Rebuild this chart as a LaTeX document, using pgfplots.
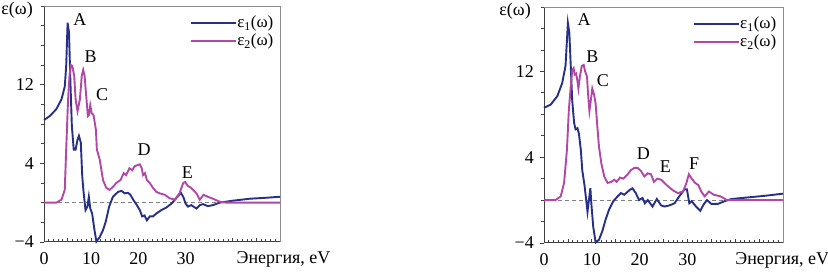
\documentclass[border=0pt]{standalone}
\usepackage{fontspec}
\setmainfont{Liberation Serif}
\usepackage{pgfplots}
\pgfplotsset{compat=1.18}
\definecolor{eone}{RGB}{38,48,135}
\definecolor{etwo}{RGB}{178,72,165}
\pgfplotsset{
  myaxis/.style={
    scale only axis, anchor=south west,
    axis lines=left,
    xmin=0, xmax=50, ymin=-4,
    axis line style={black!75, line width=1pt, -},
    xtick={0,5,...,50}, xticklabels={0,,10,,20,,30,,,,},
    minor xtick={0,1,...,50},
    ytick={-4,4,12}, yticklabels={−4,4,12},
    tick align=outside,
    major tick length=4pt, minor tick length=3pt,
    every tick/.append style={black!75, line width=0.8pt},
    every major x tick/.append style={yshift=4pt},
    every minor x tick/.append style={yshift=3pt},
    /pgf/number format/assume math mode=true,
    clip=false,
    legend cell align=left,
    legend style={draw=none, fill=none, anchor=north east, at={(0.975,0.96)},
      row sep=2pt, inner sep=0pt, font=\fontsize{17}{18}\selectfont,
      nodes={inner sep=0.5pt}},
    legend image code/.code={\draw[#1] (0pt,0pt) -- (45pt,0pt);},
  }
}
\begin{document}
\fontsize{18}{21}\selectfont
\begin{tikzpicture}
\useasboundingbox (0,0) rectangle (828pt,275pt);
% ---------------- left ----------------
\begin{axis}[myaxis, at={(44pt,33pt)}, width=236pt, height=236pt, ymax=20,
  minor ytick={-4,-2,...,20}]
\draw[black!45, line width=0.9pt] (rel axis cs:0,1) -- (rel axis cs:1,1) -- (rel axis cs:1,0);
\addplot[forget plot, gray, line width=1.1pt, dash pattern=on 4pt off 3pt] coordinates {(0,0) (50,0)};
\addplot[eone, line width=1.9pt] coordinates {
(0,8.4) (1.2,8.8) (2.6,9.5) (3.7,10.5) (4.4,11.8) (4.7,13.9) (5.0,18.3) (5.3,17.3) (5.6,12.2) (5.9,7.8)
(6.3,5.4) (6.7,5.4) (7.1,6.4) (7.4,6.8) (7.8,6.1) (8.1,2.7) (8.4,1.0) (8.8,-0.75) (9.2,-0.4) (9.5,0.6)
(9.8,-0.6) (10.2,-1.1) (10.7,-2.8) (11.1,-3.95) (11.8,-3.5) (12.5,-2.8) (13.1,-1.9) (13.8,-0.4) (14.6,0.6)
(15.7,1.1) (16.4,1.2) (17.1,0.95) (17.8,1.0) (18.3,0.8) (18.9,0.3) (19.6,-0.2) (20.3,-0.75) (20.8,-1.4)
(21.3,-1.3) (21.8,-1.8) (22.4,-1.4) (23.1,-1.4) (23.8,-1.1) (24.9,-0.75) (25.9,-0.5) (27.0,-0.1) (28.0,0.45)
(29.0,1.0) (29.5,0.6) (30.0,-0.1) (30.5,-0.4) (31.2,-0.25) (32.3,-0.6) (33.0,-0.25) (33.7,-0.15) (34.7,-0.35)
(35.8,-0.25) (37.2,0) (40.0,0.2) (43.6,0.4) (47.1,0.5) (50,0.6)};
\addlegendentry{ε\textsubscript{1}(ω)}
\addplot[etwo, line width=1.9pt] coordinates {
(0,0) (2.6,0) (3.7,0.3) (4.4,1.3) (4.7,5.4) (5.1,10.5) (5.4,12.9) (5.7,14.0) (6.0,13.9) (6.4,12.9)
(6.7,10.5) (7.1,9.3) (7.6,10.5) (8.0,12.9) (8.3,13.5) (8.6,12.9) (9.0,10.5) (9.3,8.8) (9.5,8.9) (9.8,9.9)
(10.1,9.1) (10.5,8.9) (11.0,7.4) (11.2,5.4) (11.8,4.4) (12.5,2.3) (13.2,1.5) (13.9,1.3) (14.6,1.6) (15.3,2.0)
(16.2,2.3) (16.9,3.0) (17.4,2.8) (18.1,3.5) (18.7,3.3) (19.2,3.7) (19.7,3.8) (20.3,3.9) (20.7,3.5) (21.0,2.8)
(21.4,3.0) (21.8,2.3) (22.4,2.0) (23.1,1.5) (23.8,1.1) (24.5,0.95) (25.6,0.8) (26.6,0.45) (27.7,0.3) (28.7,0.95)
(29.5,2.0) (29.9,2.1) (30.5,1.7) (31.2,1.5) (32.3,0.95) (33.0,0.3) (33.8,0.8) (34.7,0.6) (35.8,0.4) (37.2,0.1)
(38.6,0) (50,0)};
\addlegendentry{ε\textsubscript{2}(ω)}
\node at (axis cs:7.6,18.6) {A};
\node at (axis cs:9.9,14.8) {B};
\node at (axis cs:12.3,11.0) {C};
\node at (axis cs:21.2,5.4) {D};
\node at (axis cs:30.4,3.1) {E};
\node at (rel axis cs:-0.114,0.983) {ε(ω)};
\node[anchor=base west] at (rel axis cs:0.79,-0.093) {Энергия, eV};
\end{axis}
% ---------------- right ----------------
\begin{axis}[myaxis, at={(544pt,32pt)}, width=239pt, height=236pt, ymax=18,
  minor ytick={-4,-2,...,18}]
\draw[black!45, line width=0.9pt] (rel axis cs:0,1) -- (rel axis cs:1,1) -- (rel axis cs:1,0);
\addplot[forget plot, gray, line width=1.1pt, dash pattern=on 4pt off 3pt] coordinates {(0,0) (50,0)};
\addplot[eone, line width=1.9pt] coordinates {
(0,8.6) (1.4,8.9) (2.8,9.7) (3.8,10.9) (4.5,12.5) (5.0,16.5) (5.3,15.6) (5.6,12.5) (5.9,9.3) (6.3,7.2)
(6.6,6.6) (7.0,6.7) (7.3,6.2) (7.7,4.7) (8.0,2.8) (8.5,1.3) (9.1,-1.1) (9.4,0) (9.7,1.1) (9.9,-0.3)
(10.3,-2.5) (10.8,-3.95) (11.5,-3.7) (12.2,-2.9) (12.9,-1.8) (13.6,-0.9) (14.5,-0.1) (15.4,0.35) (16.1,0.65)
(16.8,0.5) (17.8,0.9) (18.5,1.1) (19.2,0.65) (19.9,0) (20.6,0.2) (21.1,-0.3) (21.7,0) (22.7,-0.6) (23.6,0.1)
(24.5,-0.5) (25.2,-0.6) (26.2,-0.5) (27.3,-0.3) (28.3,0.35) (29.4,1.0) (29.9,1.0) (30.4,-0.3) (30.9,-0.1)
(31.8,-0.6) (32.7,-1.0) (33.4,-0.4) (34.1,0) (35.0,-0.35) (36.4,-0.35) (37.8,-0.1) (39.2,0.1) (42.7,0.25)
(46.2,0.4) (50,0.6)};
\addlegendentry{ε\textsubscript{1}(ω)}
\addplot[etwo, line width=1.9pt] coordinates {
(0,0) (2.4,0) (3.5,0.35) (4.2,1.6) (4.8,4.7) (5.2,8.4) (5.6,10.6) (5.9,12.1) (6.2,12.3) (6.4,11.7)
(6.7,11.8) (7.0,11.1) (7.2,10.4) (7.5,11.5) (7.9,12.5) (8.3,12.6) (8.6,12.0) (9.0,11.5) (9.2,10.0) (9.5,8.3)
(9.8,9.3) (10.1,10.4) (10.5,9.8) (10.8,9.0) (11.2,6.6) (11.5,5.0) (12.0,3.4) (12.6,2.2) (13.3,1.6) (14.1,1.7)
(14.7,1.9) (15.2,1.7) (15.9,2.1) (16.6,2.0) (17.5,2.4) (18.2,2.8) (18.9,3.0) (19.6,3.0) (20.3,2.7) (21.0,2.2)
(21.7,2.5) (22.4,2.4) (23.0,1.7) (23.7,2.0) (24.5,1.9) (25.2,1.6) (25.9,1.3) (27.0,0.9) (28.0,0.65) (29.1,0.8)
(29.8,1.6) (30.3,2.4) (30.9,2.0) (31.6,1.6) (32.3,1.4) (32.9,0.8) (33.6,0.35) (34.5,0.8) (35.5,0.5) (36.9,0.35)
(38.3,0) (50,0)};
\addlegendentry{ε\textsubscript{2}(ω)}
\node at (axis cs:8.4,16.8) {A};
\node at (axis cs:10.1,13.4) {B};
\node at (axis cs:12.3,11.1) {C};
\node at (axis cs:20.8,4.3) {D};
\node at (axis cs:25.4,3.1) {E};
\node at (axis cs:31.4,3.4) {F};
\node at (rel axis cs:-0.121,0.983) {ε(ω)};
\node[anchor=base west] at (rel axis cs:0.775,-0.089) {Энергия, eV};
\end{axis}
\end{tikzpicture}
\end{document}
